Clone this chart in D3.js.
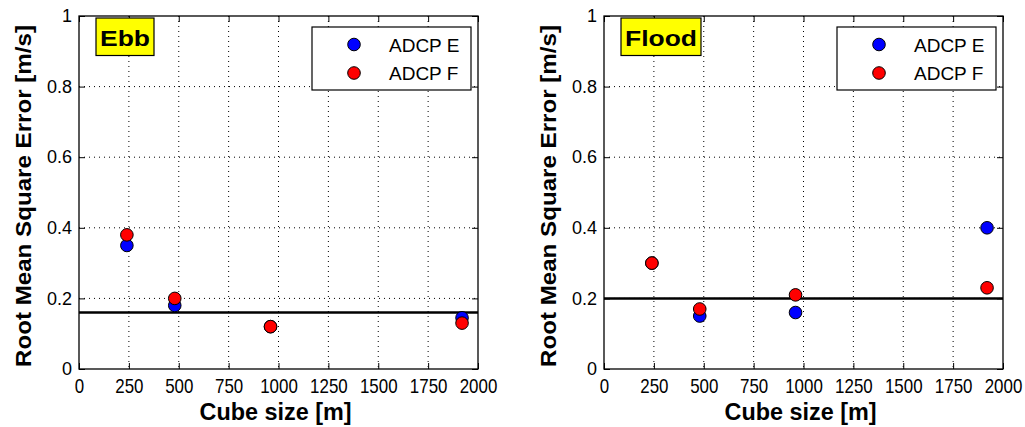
<!DOCTYPE html>
<html>
<head>
<meta charset="utf-8">
<script src="https://cdn.jsdelivr.net/npm/d3@7"></script>
<style>
  body { margin: 0; background: #fff; }
  text { font-family: "Liberation Sans", Arial, sans-serif; fill: #000; }
  .grid line { stroke: #000; stroke-width: 1; stroke-dasharray: 1,4; }
</style>
</head>
<body>
<div id="chart"></div>
<script>
// cube sizes used for both panels
const cubeSizes = [240, 480, 960, 1920];

// Ebb
const ebbE = [0.35, 0.18, 0.12, 0.145];
const ebbF = [0.38, 0.20, 0.12, 0.13];
const ebbRef = 0.16;

// Flood
const floodE = [0.30, 0.15, 0.16, 0.40];
const floodF = [0.30, 0.17, 0.21, 0.23];
const floodRef = 0.2;

const xTicks = [0, 250, 500, 750, 1000, 1250, 1500, 1750, 2000];
const yTicks = [0, 0.2, 0.4, 0.6, 0.8, 1];
const seriesNames = ["ADCP E", "ADCP F"];
const seriesColors = ["#0000ff", "#ff0000"];

const W = 1025, H = 427;
const svg = d3.select("#chart").append("svg")
  .attr("width", W)
  .attr("height", H);

svg.append("rect").attr("width", W).attr("height", H).attr("fill", "#fff");

function drawPanel(left, title, titleLen, eVals, fVals, refVal) {
  const pw = 399, ph = 353, top = 16;
  const g = svg.append("g").attr("transform", `translate(${left},${top})`);

  const x = d3.scaleLinear().domain([0, 2000]).range([0, pw]);
  const y = d3.scaleLinear().domain([0, 1]).range([ph, 0]);

  // dotted grid
  const grid = g.append("g").attr("class", "grid");
  grid.selectAll(".vg")
    .data(xTicks.slice(1, -1))
    .enter().append("line")
    .attr("x1", d => x(d)).attr("x2", d => x(d))
    .attr("y1", 0).attr("y2", ph);
  grid.selectAll(".hg")
    .data(yTicks.slice(1, -1))
    .enter().append("line")
    .attr("x1", 0).attr("x2", pw)
    .attr("y1", d => y(d)).attr("y2", d => y(d));

  // axes with inward ticks
  const xAxis = g.append("g")
    .attr("transform", `translate(0,${ph})`)
    .call(d3.axisBottom(x).tickValues(xTicks).tickSizeInner(-6).tickSizeOuter(0).tickPadding(9)
      .tickFormat(d3.format("d")));
  xAxis.selectAll("text")
    .style("font-size", "21px")
    .style("font-family", "'Liberation Sans', Arial, sans-serif")
    .attr("textLength", d => String(d).length * 9.4)
    .attr("lengthAdjust", "spacingAndGlyphs");

  const yAxis = g.append("g")
    .call(d3.axisLeft(y).tickValues(yTicks).tickSizeInner(-6).tickSizeOuter(0).tickPadding(7)
      .tickFormat(d => d3.format("~g")(d)));
  yAxis.selectAll("text")
    .style("font-size", "18px")
    .style("font-family", "'Liberation Sans', Arial, sans-serif");

  g.append("g").call(d3.axisTop(x).tickValues(xTicks).tickSizeInner(-6).tickSizeOuter(0).tickFormat(""));
  g.append("g").attr("transform", `translate(${pw},0)`)
    .call(d3.axisRight(y).tickValues(yTicks).tickSizeInner(-6).tickSizeOuter(0).tickFormat(""));
  g.selectAll(".domain").remove();
  g.selectAll(".tick line").attr("stroke", "#000");

  // frame
  g.append("rect")
    .attr("width", pw).attr("height", ph)
    .attr("fill", "none").attr("stroke", "#000").attr("stroke-width", 1.3);

  // reference line
  g.append("line")
    .attr("x1", 0).attr("x2", pw)
    .attr("y1", y(refVal)).attr("y2", y(refVal))
    .attr("stroke", "#000").attr("stroke-width", 2.5);

  // points (E under F)
  [eVals, fVals].forEach((vals, i) => {
    g.append("g").selectAll("circle")
      .data(vals)
      .enter().append("circle")
      .attr("cx", (d, j) => x(cubeSizes[j]))
      .attr("cy", d => y(d))
      .attr("r", 6.3)
      .attr("fill", seriesColors[i])
      .attr("stroke", "#000")
      .attr("stroke-width", 1);
  });

  // title box
  const tb = g.append("g").attr("transform", "translate(17,2)");
  tb.append("rect")
    .attr("width", titleLen + 8).attr("height", 37.5)
    .attr("fill", "#ffff00").attr("stroke", "#000").attr("stroke-width", 1.2);
  tb.append("text")
    .attr("x", 4).attr("y", 28)
    .attr("font-size", 22).attr("font-weight", "bold")
    .attr("textLength", titleLen).attr("lengthAdjust", "spacingAndGlyphs")
    .text(title);

  // legend
  const lg = g.append("g").attr("transform", `translate(${pw - 166},11)`);
  lg.append("rect")
    .attr("width", 159).attr("height", 63)
    .attr("fill", "#fff").attr("stroke", "#000").attr("stroke-width", 1.2);
  seriesNames.forEach((name, i) => {
    lg.append("circle")
      .attr("cx", 42).attr("cy", 17.5 + i * 28.5)
      .attr("r", 6.3)
      .attr("fill", seriesColors[i]).attr("stroke", "#000");
    lg.append("text")
      .attr("x", 77).attr("y", 24.5 + i * 28.5)
      .attr("font-size", 19)
      .text(name);
  });

  // axis labels
  g.append("text")
    .attr("x", pw / 2 - 3).attr("y", 420 - top)
    .attr("text-anchor", "middle")
    .attr("font-size", 23).attr("font-weight", "bold")
    .attr("textLength", 152).attr("lengthAdjust", "spacingAndGlyphs")
    .text("Cube size [m]");

  g.append("text")
    .attr("transform", `translate(-48.5,${196 - top}) rotate(-90)`)
    .attr("text-anchor", "middle")
    .attr("font-size", 22).attr("font-weight", "bold")
    .attr("textLength", 342).attr("lengthAdjust", "spacingAndGlyphs")
    .text("Root Mean Square Error [m/s]");
}

drawPanel(79, "Ebb", 50, ebbE, ebbF, ebbRef);
drawPanel(604, "Flood", 72, floodE, floodF, floodRef);
</script>
</body>
</html>
